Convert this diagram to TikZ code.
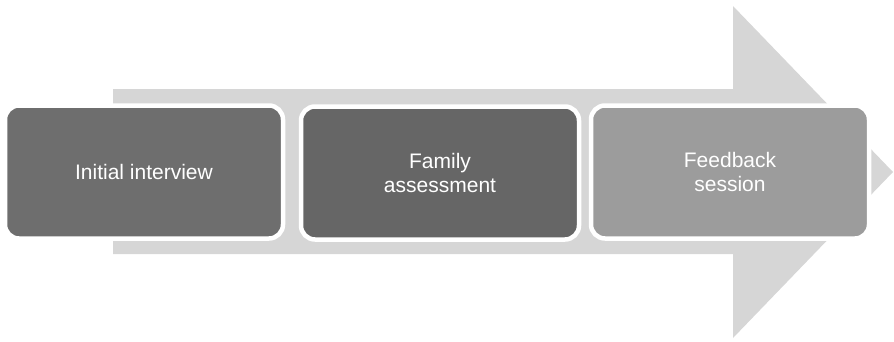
\documentclass[tikz,border=0pt]{standalone}
\usepackage{xcolor}
\usepackage{fontspec}
\setmainfont{Liberation Sans}
\usepackage{tikz}
\usetikzlibrary{positioning}
\definecolor{flowgray}{RGB}{214,214,214}
\definecolor{stepdark}{RGB}{110,110,110}
\definecolor{stepdarker}{RGB}{102,102,102}
\definecolor{steplight}{RGB}{156,156,156}
\tikzstyle{stepbox} = [rectangle, rounded corners=14pt, draw=white, line width=4.5pt,
    minimum width=278pt, minimum height=133pt, text=white, align=center,
    font=\fontsize{21}{24}\selectfont, inner sep=0pt]

\begin{document}
\begin{tikzpicture}[x=1pt, y=-1pt]
    \useasboundingbox (0,0) rectangle (894,341);
    % big process arrow behind the steps
    \fill[flowgray] (113,89) -- (733,89) -- (733,6) -- (893,172)
        -- (733,338) -- (733,254) -- (113,254) -- cycle;
    \node[stepbox, fill=stepdark]   (interview)  at (144,172) {Initial interview};
    \node[stepbox, fill=stepdarker] (assessment) at (440,173) {Family\\assessment};
    \node[stepbox, fill=steplight]  (feedback)   at (730,172) {Feedback\\session};
\end{tikzpicture}
\end{document}
